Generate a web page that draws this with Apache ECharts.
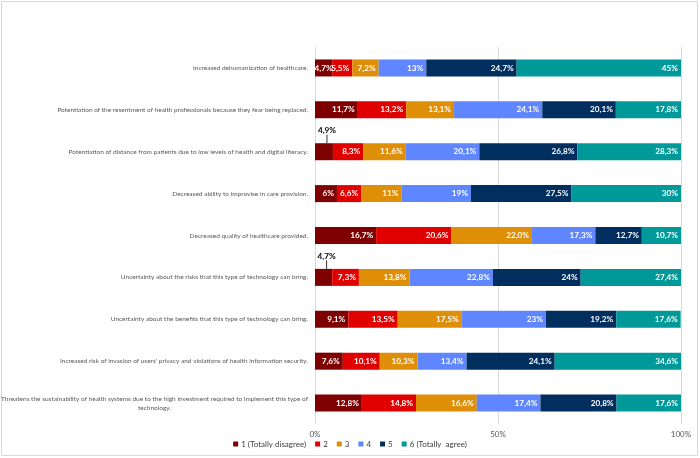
<!DOCTYPE html>
<html>
<head>
<meta charset="utf-8">
<script src="https://cdn.jsdelivr.net/npm/echarts@6/dist/echarts.min.js"></script>
<style>html,body{margin:0;padding:0;background:#fff}#c{width:700px;height:458px}</style>
</head>
<body>
<div id="c"></div>
<script>
const categories = [
  'Increased dehumanization of healthcare.',
  'Potentiation of the resentment of health professionals because they fear being replaced.',
  'Potentiation of distance from patients due to low levels of health and digital literacy.',
  'Decreased ability to improvise in care provision.',
  'Decreased quality of healthcare provided.',
  'Uncertainty about the risks that this type of technology can bring.',
  'Uncertainty about the benefits that this type of technology can bring.',
  "Increased risk of invasion of users' privacy and violations of health information security.",
  'Threatens the sustainability of health systems due to the high investment required to implement this type of\ntechnology.'
];
const seriesNames = ['1 (Totally disagree)', '2', '3', '4', '5', '6 (Totally  agree)'];
const s1 = ['4.7', '11.7', '4.9', '6', '16.7', '4.7', '9.1', '7.6', '12.8'];
const s2 = ['5.5', '13.2', '8.3', '6.6', '20.6', '7.3', '13.5', '10.1', '14.8'];
const s3 = ['7.2', '13.1', '11.6', '11', '22.0', '13.8', '17.5', '10.3', '16.6'];
const s4 = ['13', '24.1', '20.1', '19', '17.3', '22.8', '23', '13.4', '17.4'];
const s5 = ['24.7', '20.1', '26.8', '27.5', '12.7', '24', '19.2', '24.1', '20.8'];
const s6 = ['45', '17.8', '28.3', '30', '10.7', '27.4', '17.6', '34.6', '17.6'];
const xTicks = [0, 50, 100];
const outsideLabels = [2, 5]; // first-series items whose label sits above the bar

const colors = ['#7F0000', '#E00000', '#DF8F07', '#5F86FF', '#002F5F', '#009999'];
const allSeries = [s1, s2, s3, s4, s5, s6];
const fmt = s => s.replace('.', ',') + '%';

const chart = echarts.init(document.getElementById('c'), null, {renderer: 'canvas'});
const series = allSeries.map((arr, si) => ({
  name: seriesNames[si],
  type: 'bar',
  stack: 'total',
  barWidth: 17,
  itemStyle: {color: colors[si]},
  label: {
    show: true,
    position: 'insideRight',
    color: '#fff',
    fontWeight: 'bold',
    fontSize: 8.2,
    fontFamily: 'Lato',
    distance: 3,
    formatter: p => fmt(arr[p.dataIndex])
  },
  labelLine: si === 0 ? {show: true, lineStyle: {color: '#000', width: 0.8}} : undefined,
  labelLayout: si === 0 ? (p => outsideLabels.includes(p.dataIndex) ? {dy: -21, dx: 3} : {}) : undefined,
  data: arr.map((v, i) => {
    if (si === 0 && outsideLabels.includes(i)) {
      return {value: Number(v), label: {position: 'inside', color: '#000'}, labelLine: {show: true}};
    }
    if (Number(v) < 5) {
      return {value: Number(v), label: {position: 'inside'}};
    }
    return Number(v);
  })
}));

chart.setOption({
  animation: false,
  textStyle: {fontFamily: 'Lato'},
  graphic: [{type: 'rect', shape: {x: 1.5, y: 1.5, width: 696, height: 454}, style: {fill: 'none', stroke: '#d9d9d9', lineWidth: 1}, silent: true}],
  legend: {
    data: seriesNames,
    bottom: 5,
    left: 'center',
    icon: 'rect',
    itemWidth: 5,
    itemHeight: 5,
    itemGap: 9,
    textStyle: {fontSize: 8, color: '#404040', fontFamily: 'Lato', padding: [0, 0, 0, -2]}
  },
  grid: {left: 315, right: 19, top: 47, bottom: 34, containLabel: false, outerBoundsMode: 'none'},
  xAxis: {
    type: 'value',
    min: xTicks[0],
    max: xTicks[xTicks.length - 1],
    interval: xTicks[1] - xTicks[0],
    axisLine: {show: false},
    axisTick: {show: false},
    splitLine: {show: true, lineStyle: {color: '#d9d9d9', width: 1}},
    axisLabel: {formatter: '{value}%', fontSize: 8, color: '#595959', margin: 6}
  },
  yAxis: {
    type: 'category',
    inverse: true,
    data: categories,
    axisLine: {show: false},
    axisTick: {show: false},
    axisLabel: {
      fontSize: 6.5,
      color: '#595959',
      margin: 7,
      lineHeight: 9,
      formatter: v => v.includes('\n') ? v.split('\n').map(l => '{c|' + l + '}').join('\n') : v,
      rich: {c: {align: 'center', fontSize: 6.5, color: '#595959', lineHeight: 9}}
    }
  },
  series: series
});
</script>
</body>
</html>
